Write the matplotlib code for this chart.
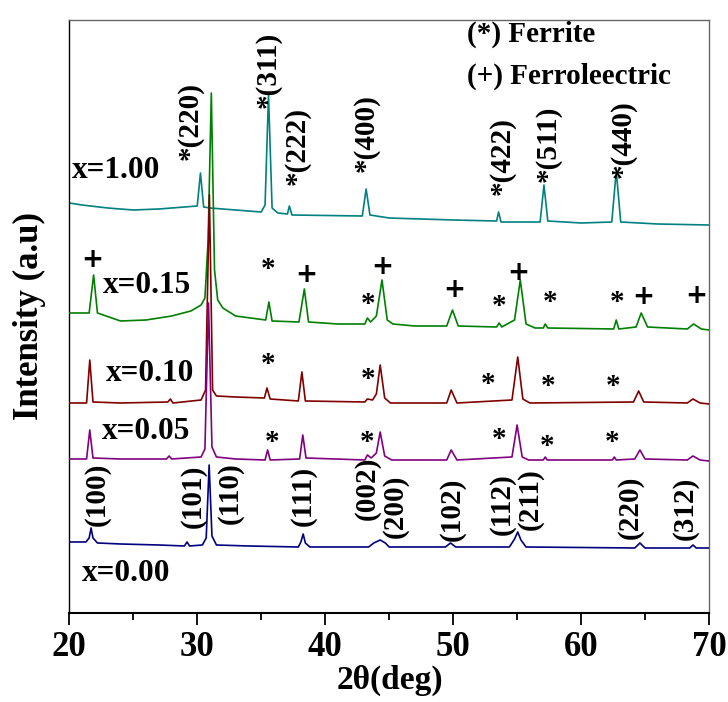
import numpy as np
import matplotlib
matplotlib.use("Agg")
import matplotlib.pyplot as plt
from matplotlib.ticker import MultipleLocator

plt.rcParams['font.family'] = ['Liberation Serif', 'DejaVu Serif']
plt.rcParams['font.weight'] = 'bold'
plt.rcParams['axes.labelweight'] = 'bold'

# XRD scans, (2theta, intensity a.u.) picked off each pattern
scan_000 = [(20.0, 6), (21.3, 6), (21.55, 10), (21.7, 20), (21.85, 10), (22.2, 5),
            (24.0, 4), (27.0, 3), (29.0, 2), (29.2, 6), (29.4, 2), (30.4, 3),
            (30.7, 10), (30.93, 83), (31.15, 12), (31.5, 3), (34.0, 2), (37.9, 1),
            (38.1, 6), (38.28, 14), (38.45, 5), (38.8, 1), (43.4, 1), (43.8, 5),
            (44.3, 8), (44.7, 5), (45.0, 1), (49.4, 1), (49.8, 5), (50.2, 1),
            (54.4, 1), (54.8, 9), (55.05, 16), (55.3, 8), (55.7, 1), (64.2, 0),
            (64.6, 5), (65.0, 0), (68.5, 0), (68.75, 3), (69.0, 0), (70.0, 0)]

scan_005 = [(20.0, 2), (21.35, 2), (21.6, 31), (21.85, 3), (24.0, 2), (27.6, 2),
            (27.8, 5), (28.0, 2), (30.3, 4), (30.6, 12), (30.88, 158), (31.15, 14),
            (31.5, 4), (33.0, 2), (35.3, 1), (35.5, 11), (35.7, 1), (38.0, 2),
            (38.25, 26), (38.5, 3), (43.1, 1), (43.3, 6), (43.6, 3), (44.0, 8),
            (44.3, 29), (44.65, 5), (45.2, 1), (49.5, 1), (49.85, 11), (50.3, 1),
            (54.6, 4), (55.0, 36), (55.4, 4), (55.9, 1), (57.05, 1), (57.2, 4),
            (57.35, 1), (62.45, 1), (62.6, 4), (62.75, 1), (64.2, 2), (64.6, 11),
            (65.0, 2), (68.3, 1), (68.75, 5), (69.3, 1), (70.0, 0)]

scan_010 = [(20.0, 1), (21.35, 1), (21.6, 44), (21.85, 2), (24.0, 1), (27.7, 2),
            (27.9, 5), (28.1, 1), (30.3, 4), (30.65, 14), (30.95, 209), (31.2, 14),
            (31.5, 8), (33.0, 7), (35.25, 6), (35.45, 16), (35.7, 5), (37.9, 3),
            (38.18, 32), (38.45, 3), (43.1, 2), (43.3, 5), (43.7, 4), (44.0, 10),
            (44.3, 39), (44.65, 6), (45.1, 1), (49.5, 1), (49.85, 14), (50.3, 1),
            (54.6, 4), (55.05, 47), (55.45, 5), (56.0, 1), (64.1, 2), (64.5, 13),
            (64.9, 2), (68.3, 1), (68.75, 5), (69.3, 1), (70.0, 0)]

scan_015 = [(20.0, 17), (21.55, 17), (21.9, 55), (22.2, 17), (24.0, 9), (26.0, 10),
            (28.0, 14), (29.5, 19), (30.3, 25), (30.6, 32), (30.85, 90), (31.1, 237),
            (31.35, 60), (31.6, 30), (32.0, 22), (33.0, 14), (35.35, 10), (35.6, 28),
            (35.85, 9), (37.95, 8), (38.37, 41), (38.7, 8), (41.0, 6), (43.1, 6),
            (43.3, 12), (43.55, 8), (44.0, 14), (44.44, 50), (44.85, 10), (45.3, 6),
            (47.0, 4), (49.5, 4), (49.95, 20), (50.4, 4), (53.4, 3), (53.6, 7),
            (53.8, 3), (54.8, 10), (55.25, 50), (55.7, 6), (56.4, 2), (57.05, 2),
            (57.2, 6), (57.4, 2), (62.55, 1), (62.75, 10), (62.95, 1), (64.3, 3),
            (64.7, 17), (65.2, 3), (68.3, 1), (68.8, 6), (69.4, 1), (70.0, 0)]

scan_100 = [(20.0, 22), (21.0, 20), (23.0, 17), (25.0, 15), (27.0, 16), (29.0, 18),
            (30.0, 19), (30.25, 52), (30.5, 18), (31.0, 17), (33.0, 15), (35.0, 13),
            (35.3, 20), (35.57, 130), (35.85, 17), (36.3, 12), (37.05, 11), (37.2, 19),
            (37.4, 10), (42.9, 9), (43.2, 36), (43.5, 10), (45.0, 7), (50.0, 5),
            (53.4, 4), (53.55, 13), (53.75, 3), (56.8, 3), (57.1, 40), (57.4, 4),
            (60.0, 2), (62.4, 3), (62.75, 54), (63.1, 3), (66.0, 1), (70.0, 0)]

compositions = ['x=0.00', 'x=0.05', 'x=0.10', 'x=0.15', 'x=1.00']
scans = [scan_000, scan_005, scan_010, scan_015, scan_100]
offsets = [64, 151, 208, 282, 387]
colors = ['#000080', '#800080', '#800000', '#008000', '#008080']
zorders = [6, 5, 4, 3, 2]
label_pos = [(21.0, 38), (22.56, 180), (22.88, 238), (22.64, 326), (20.2, 442)]

# ferrite reflections marked on the x=1.00 pattern
ferrite_hkl = ['*(220)', '*(311)', '*(222)', '*(400)', '*(422)', '*(511)', '*(440)']
ferrite_pos = [(29.45, 452), (35.54, 504), (37.8, 427), (43.2, 440),
               (53.84, 417), (57.43, 430), (63.29, 434)]

# perovskite reflections marked on the x=0.00 pattern
bto_hkl = ['(100)', '(101)', '(110)', '(111)', '(002)', '(200)', '(102)',
           '(112)', '(211)', '(220)', '(312)']
bto_pos = [(22.17, 86), (29.68, 84), (32.57, 88), (38.27, 86), (43.28, 92),
           (45.47, 74), (49.93, 71), (53.84, 77), (56.03, 82), (63.85, 73), (68.15, 72)]

# phase markers on the composite patterns
plus_marks = [(21.78, 352), (38.55, 337), (44.47, 345), (50.08, 322),
              (55.09, 339), (64.86, 315), (69.0, 316)]
star_marks = [(35.54, 342), (43.36, 307), (53.6, 305), (57.59, 309), (62.82, 309),
              (35.54, 247), (43.36, 232), (52.74, 227), (57.43, 225), (62.51, 225),
              (35.85, 169), (43.28, 169), (53.6, 172), (57.35, 165), (62.44, 169)]

fig = plt.figure(figsize=(7.28, 7.02), dpi=100)
ax = fig.add_axes([0.0952, 0.1268, 0.8787, 0.8447])

for scan, off, col, zo in zip(scans, offsets, colors, zorders):
    tt, inten = np.array(scan).T
    ax.plot(tt, inten + off, color=col, lw=1.2, zorder=zo)

for name, (xx, yy) in zip(compositions, label_pos):
    ax.text(xx, yy, name, fontsize=22.5, ha='left', va='center', zorder=10)

for hkl, (xx, yy) in zip(ferrite_hkl, ferrite_pos):
    ax.text(xx, yy, hkl, fontsize=21, rotation=90, ha='center', va='bottom', zorder=10)

for hkl, (xx, yy) in zip(bto_hkl, bto_pos):
    ax.text(xx, yy, hkl, fontsize=21, rotation=90, ha='center', va='bottom', zorder=10)

for xx, yy in plus_marks:
    ax.text(xx, yy, '+', fontsize=19, family='DejaVu Sans', fontweight='bold',
            ha='center', va='center', zorder=10)
for xx, yy in star_marks:
    ax.text(xx, yy, '*', fontsize=21, ha='center', va='center', zorder=10)

ax.text(0.622, 0.975, '(*) Ferrite', transform=ax.transAxes, fontsize=21,
        ha='left', va='center')
ax.text(0.622, 0.905, '(+) Ferroleectric', transform=ax.transAxes, fontsize=21,
        ha='left', va='center')

ax.set_xlim(20, 70)
ax.set_ylim(-1, 592)
ax.set_yticks([])
ax.xaxis.set_major_locator(MultipleLocator(10))
ax.xaxis.set_minor_locator(MultipleLocator(5))
ax.tick_params(axis='x', which='major', direction='out', length=8.5, width=1.3,
               labelsize=25, pad=4.5)
ax.tick_params(axis='x', which='minor', direction='out', length=5, width=1.3)

ax.spines['bottom'].set_linewidth(1.5)
ax.spines['left'].set_linewidth(1.0)
for side in ['top', 'right']:
    ax.spines[side].set_linewidth(1.0)
    ax.spines[side].set_color('#666666')

ax.set_xlabel('2θ(deg)', fontsize=24)
ax.xaxis.set_label_coords(0.502, -0.087)
ax.set_ylabel('Intensity (a.u)', fontsize=25)
ax.yaxis.set_label_coords(-0.036, 0.5)

fig.savefig('out.png', dpi=100)
